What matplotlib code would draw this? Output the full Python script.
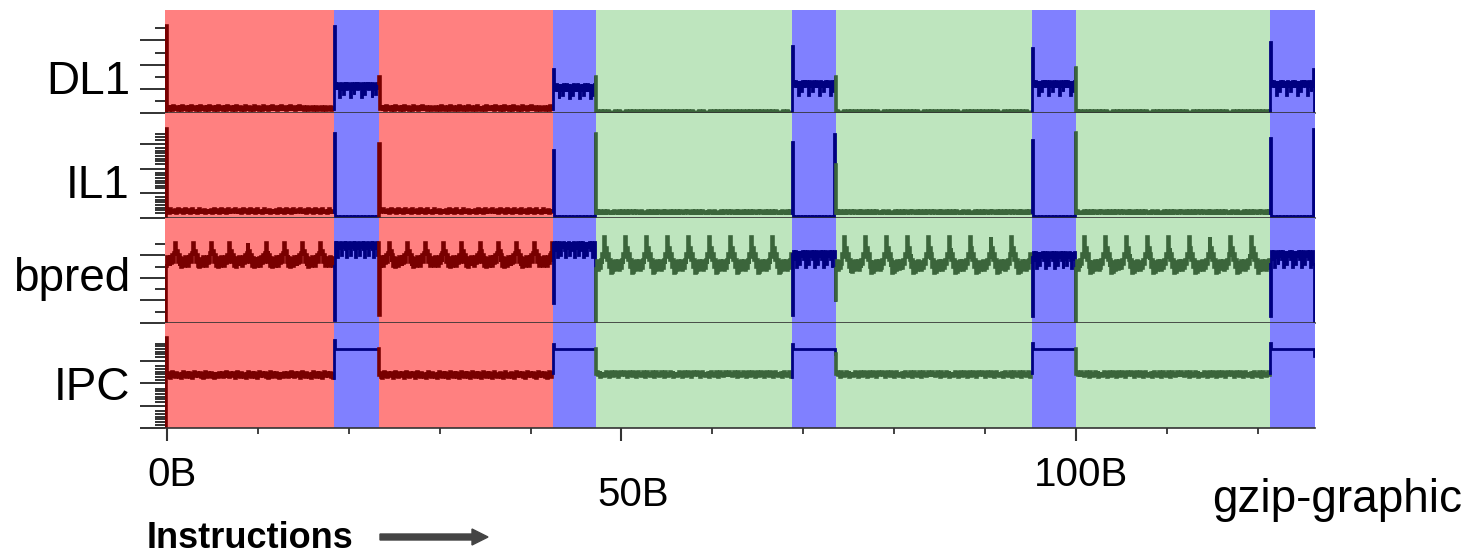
import numpy as np
import matplotlib
matplotlib.use("Agg")
import matplotlib.pyplot as plt

plt.rcParams['font.family'] = ['Liberation Sans', 'DejaVu Sans']

# phases along the run (billions of instructions)
phase_kind = ['red', 'blue', 'red', 'blue', 'green', 'blue', 'green', 'blue', 'green', 'blue']
phase_edges = [-0.22, 18.35, 23.3, 42.5, 47.2, 68.8, 73.6, 95.2, 100.0, 121.4, 126.3]

panel_names = ['DL1', 'IL1', 'bpred', 'IPC']

# mean level of each phase segment, per panel
dl1_level = [0.17, 1.1, 0.17, 1.05, 0.05, 1.2, 0.05, 1.2, 0.05, 1.2]
il1_level = [0.25, 0.08, 0.25, 0.08, 0.22, 0.08, 0.22, 0.08, 0.22, 0.08]
bpred_level = [2.74, 3.4, 2.74, 3.4, 2.6, 3.0, 2.6, 2.95, 2.6, 3.0]
ipc_level = [2.35, 3.5, 2.35, 3.5, 2.4, 3.5, 2.4, 3.5, 2.4, 3.5]

# spikes at the start / end of each segment
dl1_start = [[0.0, 3.6], [3.6], [1.5], [1.8], [], [2.75], [], [2.7], [], [2.95]]
dl1_end = [[], [], [], [1.5], [], [1.5], [], [1.85], [], [1.8, 0.0]]
il1_start = [[0.0, 3.6], [3.45], [3.0], [2.75], [], [3.1], [], [3.17], [], [3.25]]
il1_end = [[], [], [], [3.4], [], [3.4, 2.15], [], [3.45], [], [3.6, 0.0]]
bpred_start = [[0.0], [0.13], [0.35], [0.9], [], [0.35], [], [0.3], [], [0.3]]
bpred_end = [[], [], [], [0.05], [], [1.0], [], [0.0], [], [0.0]]
ipc_start = [[0.0, 4.0], [3.9], [], [3.73], [], [3.75], [], [3.78], [], [3.8]]
ipc_end = [[], [], [], [], [], [3.3], [], [], [], [3.2]]

# one repeat of the wiggle seen in each trace (offset from the level)
dl1_wiggle = {
    'red': [0.0, 0.06, -0.04, 0.05, -0.02, 0.06, -0.04, 0.1, -0.02, 0.05],
    'blue': [0.12, -0.1, 0.13, -0.08, 0.1, -0.45, 0.12, -0.1, 0.1, -0.3, 0.13, -0.08],
    'green': [0.0, 0.02, 0.0, 0.01],
}
il1_wiggle = {
    'red': [0.0, 0.06, -0.03, 0.04, 0.1, -0.02, 0.05, 0.0],
    'blue': [0.0, -0.03, 0.0, 0.02],
    'green': [0.0, 0.05, -0.02, 0.03, 0.08, 0.0, -0.03, 0.04],
}
bpred_wiggle = {
    'red': [-0.2, 0.2, -0.15, 0.15, -0.2, 0.2, -0.1, 0.25, -0.05, 0.35, 0.8, 0.3,
            0.45, -0.05, 0.25, -0.2, 0.15, -0.25, 0.1, -0.15],
    'blue': [0.2, -0.15, 0.2, -0.5, 0.15, -0.1, 0.2, -0.4, 0.15, -0.05],
    'green': [-0.2, 0.15, -0.25, 0.1, -0.15, 0.2, 0.0, 0.45, 0.3, 1.2, 0.5, 0.7,
              0.2, 0.45, -0.1, 0.2, -0.4, 0.05, -0.35, 0.1, -0.25, 0.15, -0.2],
}
ipc_wiggle = {
    'red': [0.0, 0.1, -0.08, 0.06, -0.12, 0.05, 0.12, -0.06, 0.03, -0.1, 0.08, -0.02],
    'blue': [0.0],
    'green': [0.0, 0.08, -0.06, 0.04, -0.12, 0.05, 0.1, -0.04, 0.02, -0.09],
}

x_major = [0, 50, 100]
x_minor = [10, 20, 30, 40, 60, 70, 80, 90, 110, 120]
x_labels = ['0B', '50B', '100B']

bg_color = {'red': '#ff8080', 'blue': '#8080ff', 'green': '#bee5be'}
line_color = {'red': '#780000', 'blue': '#000080', 'green': '#3b653b'}

panels = [
    (dl1_level, dl1_start, dl1_end, dl1_wiggle),
    (il1_level, il1_start, il1_end, il1_wiggle),
    (bpred_level, bpred_start, bpred_end, bpred_wiggle),
    (ipc_level, ipc_start, ipc_end, ipc_wiggle),
]

# pixel layout: (top, bottom, px per unit)
W, H = 1468, 555
px_rows = [(10, 113, 24.2), (113, 218, 24.6), (218, 323, 22.6), (323, 428, 22.5)]
x_left, x_right = 165, 1315

minor_sets = [
    [0.5, 1.5, 2.5, 3.5],
    [i + 0.2 + 0.108 * k for i in range(3) for k in range(7)] + [3.19, 3.3, 3.41],
    [0.5, 1.5, 2.5, 3.5],
    [i + 0.15 + 0.12 * k for i in range(4) for k in range(6)],
]
label_baseline = [94, 198, 291, 400]

fig = plt.figure(figsize=(W / 100, H / 100), dpi=100)
dx = 0.1

axes = []
for p, (levels, starts, ends, wig) in enumerate(panels):
    top, bot, unit = px_rows[p]
    ax = fig.add_axes([x_left / W, (H - bot) / H, (x_right - x_left) / W, (bot - top) / H])
    axes.append(ax)
    ax.set_xlim(phase_edges[0], phase_edges[-1])
    ax.set_ylim(0, (bot - top) / unit)

    prev = None
    for s, kind in enumerate(phase_kind):
        a, b = phase_edges[s], phase_edges[s + 1]
        ax.axvspan(a, b, color=bg_color[kind], lw=0, zorder=0)
        n = int((b - a) / dx)
        body = levels[s] + np.resize(np.array(wig[kind]), n)
        ys = list(starts[s]) + list(body) + list(ends[s])
        xs = list(np.linspace(a, b - 0.1, len(ys)))
        if prev is not None:
            xs = [a] + xs
            ys = [prev] + ys
        ax.plot(xs, ys, drawstyle='steps-post', color=line_color[kind],
                lw=2.6 if kind != 'blue' else 2.0, zorder=3, solid_joinstyle='miter')
        prev = ys[-1]

    for side in ['top', 'right', 'left']:
        ax.spines[side].set_visible(False)
    ax.spines['bottom'].set_color('#333333')
    ax.spines['bottom'].set_linewidth(1.2)
    ax.spines['bottom'].set_zorder(4)

    ax.set_yticks([0, 1, 2, 3])
    ax.set_yticks(minor_sets[p], minor=True)
    ax.tick_params(axis='y', which='major', length=18, width=1.3, color='#222222',
                   labelleft=False, direction='out')
    ax.tick_params(axis='y', which='minor', length=7, width=1.3, color='#222222',
                   direction='out')
    ax.set_xticks(x_major)
    ax.set_xticks(x_minor, minor=True)
    ax.tick_params(axis='x', which='major', length=9, width=1.5, color='#333333',
                   labelbottom=False, direction='out')
    ax.tick_params(axis='x', which='minor', length=4, width=1.3, color='#333333',
                   direction='out')

    fig.text(130 / W, (H - label_baseline[p]) / H, panel_names[p], ha='right',
             va='baseline', fontsize=33)

# x labels under the bottom panel, staggered like the original
bottom_ax = axes[-1]
label_y = [486, 506, 486]
label_shift = [0.6, 1.3, 0.6]
for xv, lab, yb, sh in zip(x_major, x_labels, label_y, label_shift):
    bottom_ax.text(xv + sh, (H - yb) / H, lab, ha='center', va='baseline', fontsize=29,
                   transform=bottom_ax.get_xaxis_transform().__class__(
                       bottom_ax.transData, fig.transFigure))

fig.text(1462 / W, (H - 512) / H, 'gzip-graphic', ha='right', va='baseline', fontsize=33)
fig.text(147 / W, (H - 548) / H, 'Instructions', ha='left', va='baseline',
         fontsize=26, fontweight='bold')
fig.patches.append(matplotlib.patches.FancyArrow(
    380 / W, (H - 537) / H, 92 / W, 0, width=6 / H, head_width=16 / H,
    head_length=16 / W, length_includes_head=False, color='#444444',
    transform=fig.transFigure, figure=fig))

fig.savefig('out.png', dpi=100)
